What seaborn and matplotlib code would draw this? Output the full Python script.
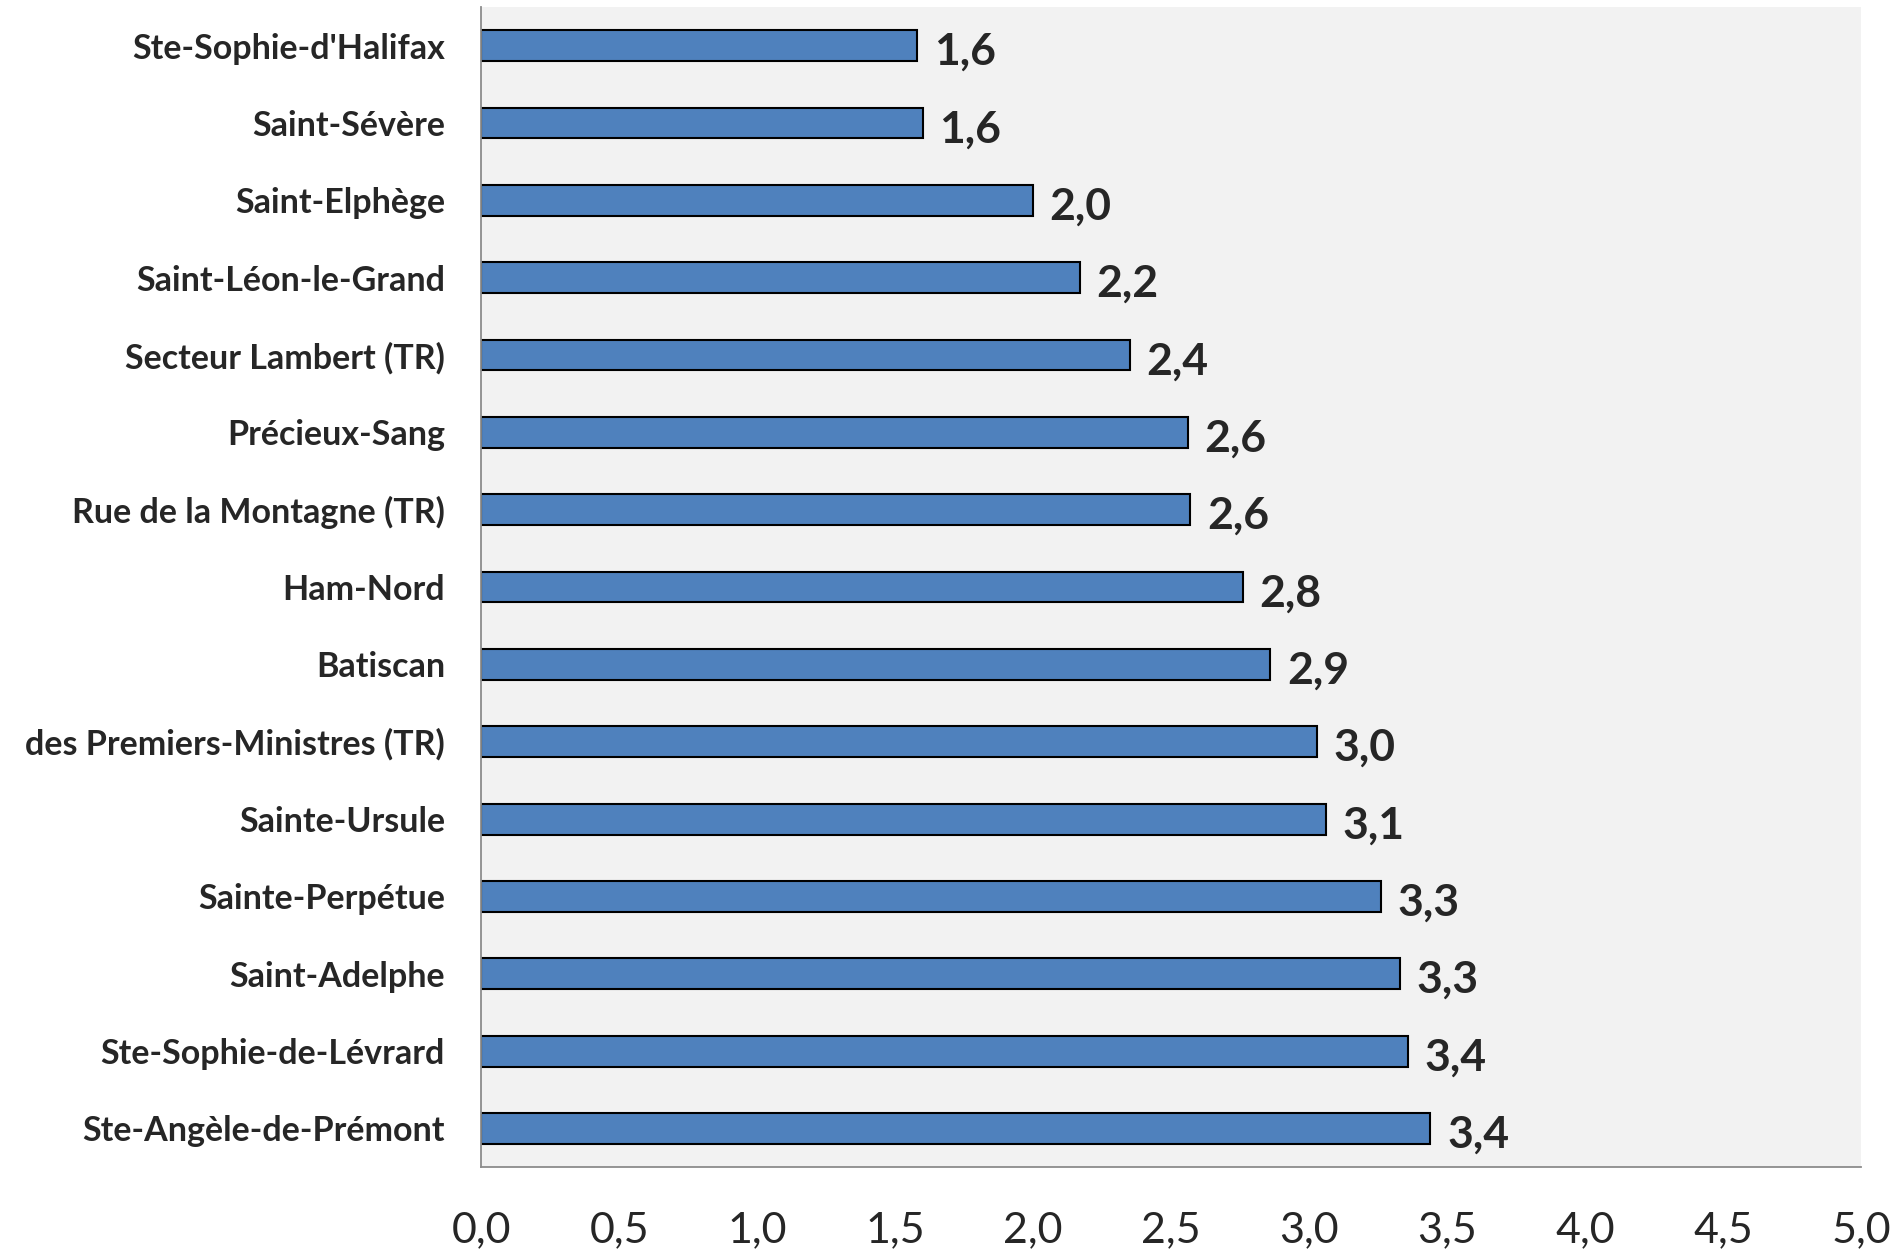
import matplotlib
matplotlib.use("Agg")
import matplotlib.pyplot as plt
import seaborn as sns
import pandas as pd

# Municipalities, top to bottom, with their values
localites = [
    "Ste-Sophie-d'Halifax",
    "Saint-Sévère",
    "Saint-Elphège",
    "Saint-Léon-le-Grand",
    "Secteur Lambert (TR)",
    "Précieux-Sang",
    "Rue de la Montagne (TR)",
    "Ham-Nord",
    "Batiscan",
    "des Premiers-Ministres (TR)",
    "Sainte-Ursule",
    "Sainte-Perpétue",
    "Saint-Adelphe",
    "Ste-Sophie-de-Lévrard",
    "Ste-Angèle-de-Prémont",
]
valeurs = [1.58, 1.60, 2.00, 2.17, 2.35, 2.56, 2.57, 2.76, 2.86,
           3.03, 3.06, 3.26, 3.33, 3.36, 3.44]
x_ticks = [0.0, 0.5, 1.0, 1.5, 2.0, 2.5, 3.0, 3.5, 4.0, 4.5, 5.0]

df = pd.DataFrame({"localite": localites, "valeur": valeurs})

sns.set_style("white")
plt.rcParams["font.family"] = ["Lato", "DejaVu Sans"]

fig = plt.figure(figsize=(18.97, 12.51), dpi=100)
ax = fig.add_axes([0.2536, 0.0671, 0.7274, 0.9273])
ax.set_facecolor("#F2F2F2")

sns.barplot(data=df, y="localite", x="valeur", orient="h", ax=ax,
            color="#4F81BD", saturation=1, width=0.40,
            edgecolor="black", linewidth=1.5)

ax.set_xlim(0, 5)
ax.set_ylim(len(localites) - 0.5, -0.5)
ax.set_xlabel("")
ax.set_ylabel("")

ax.set_xticks(x_ticks)
ax.set_xticklabels([f"{t:.1f}".replace(".", ",") for t in x_ticks],
                   fontsize=31)
ax.set_yticks(range(len(localites)))
ax.set_yticklabels(localites, fontsize=24.5, fontweight="bold")

# Category separators as ticks on the y axis
ax.set_yticks([i - 0.5 for i in range(len(localites) + 1)], minor=True)
ax.tick_params(axis="y", which="major", length=0, pad=26)
ax.tick_params(axis="y", which="minor", length=9, width=1.3, color="#8C8C8C")
ax.tick_params(axis="x", which="major", length=11, width=1.3,
               color="#8C8C8C", pad=21)

for side in ["top", "right"]:
    ax.spines[side].set_visible(False)
for side in ["left", "bottom"]:
    ax.spines[side].set_color("#8C8C8C")
    ax.spines[side].set_linewidth(1.3)

# Value labels at the end of each bar
for i, v in enumerate(valeurs):
    ax.text(v + 0.06, i + 0.08, f"{v:.1f}".replace(".", ","),
            va="center", ha="left", fontsize=32, fontweight="bold")

fig.savefig("out.png", dpi=100)
